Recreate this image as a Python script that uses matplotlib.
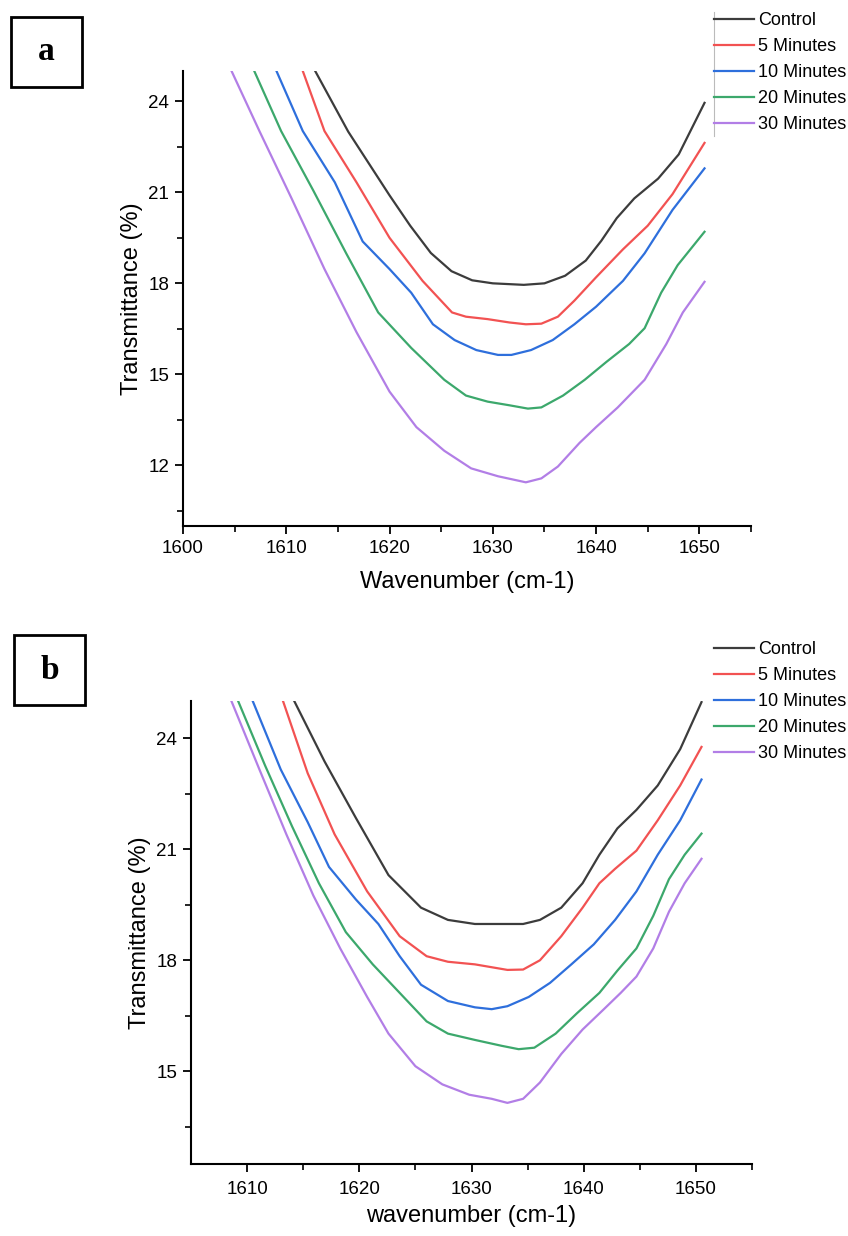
import numpy as np
import matplotlib.pyplot as plt
from matplotlib.patches import Rectangle
from matplotlib.lines import Line2D

plt.rcParams['font.family'] = ['Liberation Sans', 'DejaVu Sans']

labels = ['Control', '5 Minutes', '10 Minutes', '20 Minutes', '30 Minutes']
colors = ['#3c3c3c', '#f25252', '#2e6fdc', '#3ca86c', '#b27ee6']

## Panel a data ################################################################
a_ctrl_x = [1612.8, 1616, 1620, 1622, 1624, 1626, 1628, 1630, 1633, 1635, 1637, 1639, 1640.5, 1642, 1643.7, 1646, 1648, 1650.5]
a_ctrl_y = [25.0, 23.0, 20.9, 19.9, 19.0, 18.4, 18.1, 18.0, 17.95, 18.0, 18.25, 18.75, 19.4, 20.15, 20.8, 21.45, 22.25, 23.95]

a_5_x = [1611.6, 1613.7, 1616.8, 1620, 1623.2, 1626.05, 1627.4, 1629.5, 1631.6, 1633.2, 1634.7, 1636.3, 1637.9, 1640, 1642.6, 1645, 1647.4, 1650.5]
a_5_y = [25.0, 23.02, 21.33, 19.5, 18.08, 17.04, 16.9, 16.82, 16.71, 16.65, 16.67, 16.9, 17.43, 18.2, 19.12, 19.9, 20.94, 22.63]

a_10_x = [1609.05, 1611.6, 1614.7, 1617.4, 1620, 1622.1, 1624.2, 1626.3, 1628.4, 1630.5, 1631.8, 1633.7, 1635.8, 1637.9, 1640, 1642.6, 1644.7, 1647.4, 1650.5]
a_10_y = [25.0, 23.02, 21.33, 19.38, 18.47, 17.69, 16.65, 16.13, 15.8, 15.64, 15.64, 15.8, 16.13, 16.65, 17.23, 18.08, 18.99, 20.42, 21.79]

a_20_x = [1606.9, 1609.5, 1612.6, 1615.8, 1618.9, 1622.1, 1625.3, 1627.4, 1629.5, 1631.6, 1633.4, 1634.7, 1636.8, 1638.9, 1641, 1643.2, 1644.7, 1646.3, 1647.9, 1650.5]
a_20_y = [25.0, 23.02, 21.07, 18.99, 17.04, 15.87, 14.82, 14.3, 14.1, 13.98, 13.87, 13.91, 14.3, 14.82, 15.41, 16.0, 16.52, 17.69, 18.6, 19.7]

a_30_x = [1604.7, 1607.4, 1610.5, 1613.7, 1616.8, 1620, 1622.6, 1625.3, 1627.9, 1630.5, 1633.2, 1634.7, 1636.3, 1638.4, 1640, 1642.1, 1644.7, 1646.8, 1648.4, 1650.5]
a_30_y = [25.0, 23.02, 20.81, 18.47, 16.39, 14.43, 13.26, 12.48, 11.9, 11.64, 11.44, 11.57, 11.96, 12.74, 13.26, 13.91, 14.82, 16.0, 17.04, 18.05]

## Panel b data ################################################################
b_ctrl_x = [1614.2, 1616.9, 1619.7, 1622.6, 1625.5, 1627.9, 1630.3, 1632.7, 1634.6, 1636.1, 1638, 1639.9, 1641.4, 1643, 1644.7, 1646.6, 1648.6, 1650.5]
b_ctrl_y = [25.0, 23.37, 21.84, 20.3, 19.42, 19.09, 18.98, 18.98, 18.98, 19.09, 19.42, 20.08, 20.85, 21.56, 22.06, 22.72, 23.7, 24.97]

b_5_x = [1613.2, 1615.4, 1617.8, 1620.7, 1623.6, 1626, 1627.9, 1630.3, 1633.2, 1634.6, 1636.1, 1638, 1639.9, 1641.4, 1642.8, 1644.7, 1646.6, 1648.6, 1650.5]
b_5_y = [25.0, 23.05, 21.4, 19.86, 18.65, 18.11, 17.96, 17.89, 17.74, 17.75, 18.0, 18.65, 19.42, 20.08, 20.47, 20.96, 21.78, 22.72, 23.76]

b_10_x = [1610.5, 1613, 1615.4, 1617.3, 1619.7, 1621.7, 1623.6, 1625.5, 1627.9, 1630.3, 1631.8, 1633.2, 1635.1, 1637, 1638.9, 1640.9, 1642.8, 1644.7, 1646.6, 1648.6, 1650.5]
b_10_y = [25.0, 23.15, 21.73, 20.52, 19.64, 18.98, 18.11, 17.34, 16.9, 16.73, 16.68, 16.76, 17.01, 17.39, 17.89, 18.43, 19.09, 19.86, 20.85, 21.78, 22.88]

b_20_x = [1609.2, 1611.6, 1614, 1616.4, 1618.8, 1621.2, 1623.6, 1626, 1627.9, 1630.3, 1632.7, 1634.2, 1635.6, 1637.5, 1639.4, 1641.4, 1643, 1644.7, 1646.2, 1647.6, 1649, 1650.5]
b_20_y = [25.0, 23.26, 21.62, 20.08, 18.76, 17.89, 17.12, 16.35, 16.02, 15.85, 15.69, 15.6, 15.64, 16.02, 16.57, 17.12, 17.72, 18.32, 19.2, 20.19, 20.85, 21.42]

b_30_x = [1608.6, 1611.1, 1613.5, 1615.9, 1618.3, 1620.7, 1622.6, 1625, 1627.4, 1629.8, 1631.8, 1633.2, 1634.6, 1636.1, 1638, 1639.9, 1641.8, 1643.3, 1644.7, 1646.2, 1647.6, 1649, 1650.5]
b_30_y = [25.0, 23.15, 21.4, 19.75, 18.32, 17.01, 16.02, 15.14, 14.65, 14.37, 14.26, 14.15, 14.26, 14.7, 15.47, 16.13, 16.68, 17.12, 17.56, 18.32, 19.31, 20.08, 20.74]

panel_a = [(a_ctrl_x, a_ctrl_y), (a_5_x, a_5_y), (a_10_x, a_10_y), (a_20_x, a_20_y), (a_30_x, a_30_y)]
panel_b = [(b_ctrl_x, b_ctrl_y), (b_5_x, b_5_y), (b_10_x, b_10_y), (b_20_x, b_20_y), (b_30_x, b_30_y)]

W, H = 848, 1236
fig = plt.figure(figsize=(W / 100, H / 100), dpi=100)


def style_axes(ax, xlabel, xlim, ylim, xticks, yticks, xpad, xlabelpad):
    ax.set_xticks(xticks)
    ax.set_yticks(yticks)
    ax.set_xticks(np.arange(xlim[0] + 5 - xlim[0] % 10 % 5, xlim[1] + 0.1, 5), minor=True)
    ax.set_yticks(np.arange(yticks[0] - 1.5, ylim[1], 3), minor=True)
    # limits after ticks, otherwise the minor ticks widen the view
    ax.set_xlim(xlim)
    ax.set_ylim(ylim)
    for s in ['top', 'right']:
        ax.spines[s].set_visible(False)
    for s in ['left', 'bottom']:
        ax.spines[s].set_linewidth(1.5)
    ax.tick_params(which='major', direction='out', length=6, width=1.3, labelsize=13.5, pad=4)
    ax.tick_params(axis='x', which='major', pad=xpad)
    ax.tick_params(which='minor', direction='out', length=4, width=1.2)
    ax.set_xlabel(xlabel, fontsize=17, labelpad=xlabelpad)
    ax.set_ylabel('Transmittance (%)', fontsize=17, labelpad=4)


def draw_panel(ax, data, top_px):
    handles = []
    for (x, y), lab, c in zip(data, labels, colors):
        h, = ax.plot(x, y, color=c, lw=1.6, label=lab)
        handles.append(h)
    fig.legend(handles=handles, loc='upper left',
               bbox_to_anchor=(714 / W, 1 - top_px / H), bbox_transform=fig.transFigure,
               frameon=False, fontsize=13, handlelength=2.2, handletextpad=0.25,
               labelspacing=0.5, borderaxespad=0, borderpad=0)


# panel a
ax1 = fig.add_axes([183 / W, 1 - 526 / H, (751 - 183) / W, (526 - 71) / H])
draw_panel(ax1, panel_a, 12)
style_axes(ax1, 'Wavenumber (cm-1)', (1600, 1655), (10, 25),
           [1600, 1610, 1620, 1630, 1640, 1650], [12, 15, 18, 21, 24], 4, 10)

# panel b
ax2 = fig.add_axes([191 / W, 1 - 1164 / H, (752 - 191) / W, (1164 - 701) / H])
draw_panel(ax2, panel_b, 641)
style_axes(ax2, 'wavenumber (cm-1)', (1605, 1655), (12.5, 25),
           [1610, 1620, 1630, 1640, 1650], [15, 18, 21, 24], 6, 5)

# thin frame edge left of legend in panel a
fig.add_artist(Line2D([714 / W, 714 / W], [1 - 12 / H, 1 - 136 / H],
                      color='#bbbbbb', lw=0.8, transform=fig.transFigure))

# boxed panel letters
for letter, (x0, y0) in zip(['a', 'b'], [(11, 17), (14, 635)]):
    fig.add_artist(Rectangle((x0 / W, 1 - (y0 + 70) / H), 71 / W, 70 / H,
                             transform=fig.transFigure, fill=False, ec='black', lw=2))
    fig.text((x0 + 35.5) / W, 1 - (y0 + 35) / H, letter, ha='center', va='center',
             fontsize=24, fontweight='bold', family='Liberation Serif')

fig.savefig('out.png', dpi=100)
